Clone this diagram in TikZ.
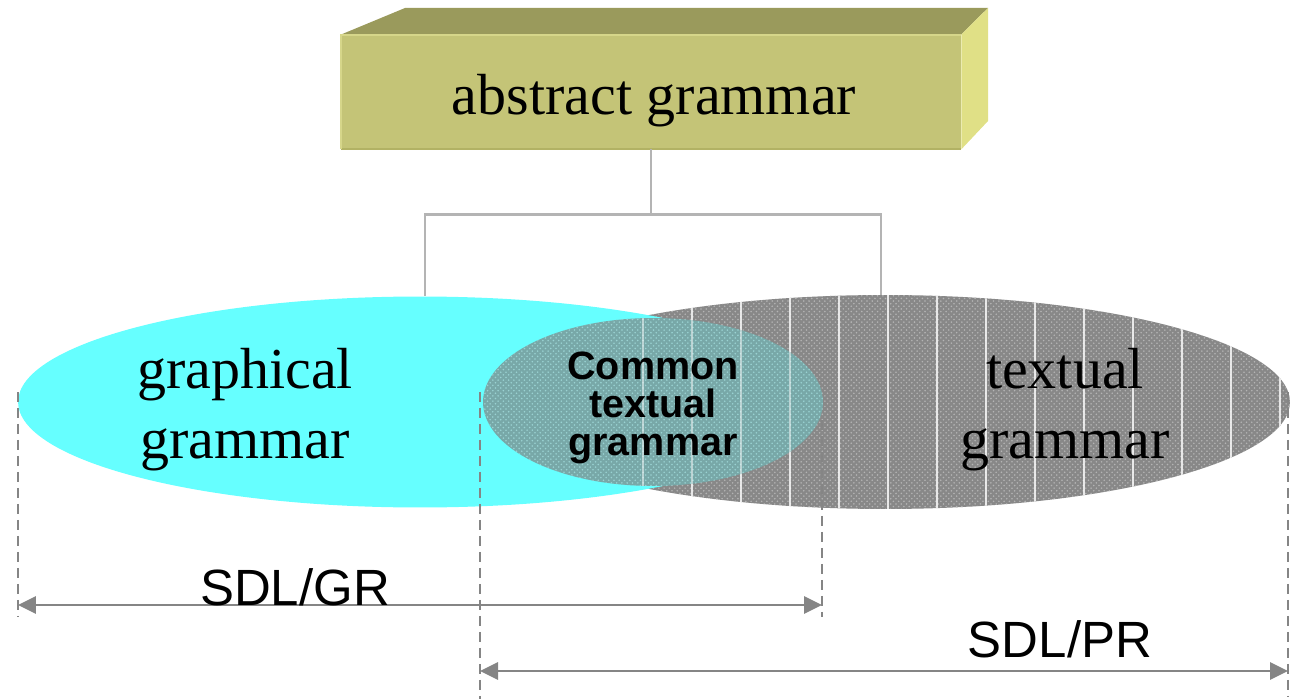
\documentclass[tikz,border=0pt]{standalone}
\usepackage{fontspec}
\setmainfont{Liberation Serif}
\newfontfamily\labelsans{Liberation Sans}
\usetikzlibrary{arrows.meta,shapes.geometric,patterns}

\definecolor{boxfront}{HTML}{C4C477}
\definecolor{boxtop}{HTML}{9A9A5C}
\definecolor{boxside}{HTML}{E0E086}
\definecolor{boxedge}{HTML}{B2B264}
\definecolor{boxlight}{HTML}{D6D68A}
\definecolor{graphcyan}{HTML}{66FFFF}
\definecolor{textgray}{HTML}{888888}
\definecolor{speckle}{HTML}{B4B4B4}
\definecolor{commonfill}{HTML}{78A8A8}
\definecolor{commonspeck}{HTML}{9AD2D2}
\definecolor{linkgray}{HTML}{B4B4B4}
\definecolor{dimgray}{HTML}{858585}

\begin{document}
\begin{tikzpicture}[x=0.02cm,y=-0.02cm,
  link/.style={draw=linkgray,line width=1.6pt},
  guide/.style={draw=dimgray,line width=1.6pt,dash pattern=on 5.7pt off 3.4pt},
  span/.style={draw=dimgray,line width=1.6pt,
    {Triangle[length=0.36cm,width=0.34cm]}-{Triangle[length=0.36cm,width=0.34cm]}},
  oval/.style={ellipse,inner sep=0pt,draw=none},
  serifbig/.style={font=\fontsize{33}{40}\selectfont,align=center,inner sep=0pt},
  sdlbold/.style={font=\labelsans\bfseries\fontsize{22.5}{21.6}\selectfont,align=center,inner sep=0pt},
  sdllabel/.style={font=\labelsans\fontsize{29}{34}\selectfont,anchor=base,inner sep=0pt},
  seam/.style={draw=white,line width=0.6pt,draw opacity=0.8}
]
\useasboundingbox (0,0) rectangle (1295,699);

% ---- abstract grammar block (front face as node, top and side faces around it)
\node[fill=boxfront,minimum width=12.4cm,minimum height=2.28cm,inner sep=0pt] (abs) at (651,92) {};
\fill[boxtop] (abs.north west) -- (405,8) -- (988,8) -- (abs.north east) -- cycle;
\fill[boxside] (abs.north east) -- (988,8) -- (988,121) -- (abs.south east) -- cycle;
\draw[boxedge,line width=1.2pt] (abs.south west) -- (abs.south east);
\draw[boxlight,line width=1.2pt] (abs.south west) -- (abs.north west) -- (abs.north east);
\node[serifbig] (abstxt) at (654,101) {abstract grammar};

% ---- textual grammar oval: speckled grey with light seams
\node[oval,minimum width=16.2cm,minimum height=4.28cm,fill=textgray,
      postaction={pattern=crosshatch dots,pattern color=speckle}] (tx) at (885,402) {};
\begin{scope}
  \clip (885,402) ellipse [x radius=405,y radius=107];
  \foreach \k in {0,...,13} \draw[seam] (643+49*\k,280) -- (643+49*\k,520);
\end{scope}

% ---- graphical grammar oval
\node[oval,minimum width=16.08cm,minimum height=4.22cm,fill=graphcyan] (gr) at (420,402) {};

% ---- common textual grammar oval
\node[oval,minimum width=6.8cm,minimum height=3.36cm,fill=commonfill,
      postaction={pattern=crosshatch dots,pattern color=commonspeck}] (cm) at (653,402) {};
\begin{scope}
  \clip (653,402) ellipse [x radius=170,y radius=84];
  \foreach \k in {0,...,3} \draw[seam,draw opacity=0.5] (643+49*\k,300) -- (643+49*\k,500);
\end{scope}

% ---- labels inside the ovals
\node[serifbig] (grtxt) at (245,410) {graphical\\grammar};
\node[serifbig] (txtxt) at (1065,410) {textual\\grammar};
\node[sdlbold] (cmtxt) at (653,408) {Common\\textual\\grammar};

% ---- tree connectors from the block to the two ovals
\draw[link] (abs.south) -- ++(0,65) coordinate (fork);
\draw[link] (fork) -| ([xshift=0.1cm]gr.north);
\draw[link] (fork) -| ([xshift=-0.08cm]tx.north);

% ---- extent guides
\coordinate (gTop) at (18,392);   \coordinate (gBot) at (18,617);
\coordinate (cTop) at (822,420);  \coordinate (cBot) at (822,617);
\coordinate (pTop) at (480,392);  \coordinate (pBot) at (480,699);
\coordinate (qTop) at (1288,392); \coordinate (qBot) at (1288,696);
\draw[guide] (gTop) -- (gBot);
\draw[guide] (cTop) -- (cBot);
\draw[guide] (pTop) -- (pBot);
\draw[guide] (qTop) -- (qBot);

% ---- span arrows with their labels
\coordinate (grA) at (18,605);  \coordinate (grB) at (822,605);
\coordinate (prA) at (480,671); \coordinate (prB) at (1288,671);
\draw[span] (grA) -- (grB);
\draw[span] (prA) -- (prB);
\node[sdllabel] (sdlgr) at (295,605) {SDL/GR};
\node[sdllabel] (sdlpr) at (1060,657) {SDL/PR};
\end{tikzpicture}
\end{document}
